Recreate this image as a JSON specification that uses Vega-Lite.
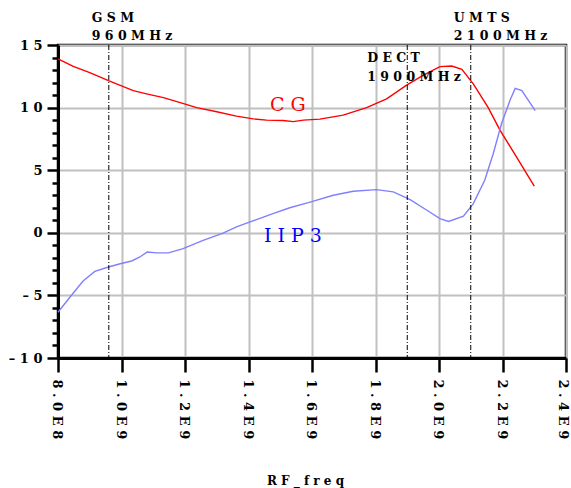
{
  "$schema": "https://vega.github.io/schema/vega-lite/v6.json",
  "width": 508,
  "height": 313,
  "autosize": "none",
  "padding": {"left": 58, "top": 45, "right": 5, "bottom": 130},
  "background": "white",
  "config": {
    "view": {"stroke": "#000000", "strokeWidth": 2.5},
    "font": "DejaVu Serif",
    "axisY": {
      "labelFont": "DejaVu Serif",
      "labelFontSize": 13,
      "labelFontWeight": "bold",
      "labelColor": "#000000",
      "labelPadding": 5,
      "labelFlush": false,
      "labelOverlap": false,
      "labelBound": false,
      "domainColor": "#000000",
      "domainWidth": 3,
      "tickColor": "#000000",
      "tickWidth": 2.5,
      "gridColor": "#c0c0c0",
      "gridWidth": 2
    },
    "axisX": {
      "labelFont": "DejaVu Serif",
      "labelFontSize": 13,
      "labelFontWeight": "bold",
      "labelColor": "#000000",
      "labelFlush": false,
      "labelOverlap": false,
      "labelBound": false,
      "domainColor": "#000000",
      "domainWidth": 3,
      "tickColor": "#000000",
      "tickWidth": 2.5,
      "gridColor": "#c0c0c0",
      "gridWidth": 2
    }
  },
  "datasets": {
    "curves": [
      {"series": "CG", "freq": 800000000, "val": 13.9},
      {"series": "CG", "freq": 848000000, "val": 13.3},
      {"series": "CG", "freq": 900000000, "val": 12.8},
      {"series": "CG", "freq": 959000000, "val": 12.15},
      {"series": "CG", "freq": 1037000000, "val": 11.35},
      {"series": "CG", "freq": 1079000000, "val": 11.1},
      {"series": "CG", "freq": 1132000000, "val": 10.8},
      {"series": "CG", "freq": 1185000000, "val": 10.4},
      {"series": "CG", "freq": 1237000000, "val": 10.0},
      {"series": "CG", "freq": 1300000000, "val": 9.67},
      {"series": "CG", "freq": 1362000000, "val": 9.32},
      {"series": "CG", "freq": 1415000000, "val": 9.1},
      {"series": "CG", "freq": 1457000000, "val": 9.0},
      {"series": "CG", "freq": 1509000000, "val": 8.97},
      {"series": "CG", "freq": 1541000000, "val": 8.88},
      {"series": "CG", "freq": 1573000000, "val": 9.0},
      {"series": "CG", "freq": 1625000000, "val": 9.08},
      {"series": "CG", "freq": 1698000000, "val": 9.4},
      {"series": "CG", "freq": 1772000000, "val": 10.0},
      {"series": "CG", "freq": 1835000000, "val": 10.7},
      {"series": "CG", "freq": 1898000000, "val": 11.8},
      {"series": "CG", "freq": 1951000000, "val": 12.6},
      {"series": "CG", "freq": 2003000000, "val": 13.27},
      {"series": "CG", "freq": 2040000000, "val": 13.32},
      {"series": "CG", "freq": 2072000000, "val": 13.05},
      {"series": "CG", "freq": 2108000000, "val": 11.9},
      {"series": "CG", "freq": 2155000000, "val": 10.0},
      {"series": "CG", "freq": 2192000000, "val": 8.2},
      {"series": "CG", "freq": 2244000000, "val": 6.07},
      {"series": "CG", "freq": 2300000000, "val": 3.72},
      {"series": "IIP3", "freq": 800000000, "val": -6.35},
      {"series": "IIP3", "freq": 838000000, "val": -5.13},
      {"series": "IIP3", "freq": 879000000, "val": -3.85},
      {"series": "IIP3", "freq": 916000000, "val": -3.08},
      {"series": "IIP3", "freq": 959000000, "val": -2.73},
      {"series": "IIP3", "freq": 996000000, "val": -2.47},
      {"series": "IIP3", "freq": 1032000000, "val": -2.25},
      {"series": "IIP3", "freq": 1058000000, "val": -1.93},
      {"series": "IIP3", "freq": 1081000000, "val": -1.53},
      {"series": "IIP3", "freq": 1111000000, "val": -1.6},
      {"series": "IIP3", "freq": 1148000000, "val": -1.6},
      {"series": "IIP3", "freq": 1194000000, "val": -1.27},
      {"series": "IIP3", "freq": 1257000000, "val": -0.6},
      {"series": "IIP3", "freq": 1320000000, "val": -0.02},
      {"series": "IIP3", "freq": 1362000000, "val": 0.47},
      {"series": "IIP3", "freq": 1425000000, "val": 1.05},
      {"series": "IIP3", "freq": 1477000000, "val": 1.53},
      {"series": "IIP3", "freq": 1530000000, "val": 2.0},
      {"series": "IIP3", "freq": 1594000000, "val": 2.45},
      {"series": "IIP3", "freq": 1667000000, "val": 3.0},
      {"series": "IIP3", "freq": 1730000000, "val": 3.32},
      {"series": "IIP3", "freq": 1803000000, "val": 3.45},
      {"series": "IIP3", "freq": 1856000000, "val": 3.27},
      {"series": "IIP3", "freq": 1909000000, "val": 2.65},
      {"series": "IIP3", "freq": 1962000000, "val": 1.8},
      {"series": "IIP3", "freq": 2003000000, "val": 1.13},
      {"series": "IIP3", "freq": 2030000000, "val": 0.9},
      {"series": "IIP3", "freq": 2077000000, "val": 1.32},
      {"series": "IIP3", "freq": 2108000000, "val": 2.33},
      {"series": "IIP3", "freq": 2144000000, "val": 4.2},
      {"series": "IIP3", "freq": 2171000000, "val": 6.33},
      {"series": "IIP3", "freq": 2197000000, "val": 8.73},
      {"series": "IIP3", "freq": 2224000000, "val": 10.6},
      {"series": "IIP3", "freq": 2240000000, "val": 11.53},
      {"series": "IIP3", "freq": 2261000000, "val": 11.35},
      {"series": "IIP3", "freq": 2303000000, "val": 9.75}
    ],
    "markers": [
      {"name": "GSM", "band": "960MHz", "freq": 960000000},
      {"name": "DECT", "band": "1900MHz", "freq": 1900000000},
      {"name": "UMTS", "band": "2100MHz", "freq": 2100000000}
    ],
    "tags": [
      {"series": "CG", "text": "C G", "freq": 1524000000, "val": 10.2},
      {"series": "IIP3", "text": "I I P 3", "freq": 1540000000, "val": -0.25}
    ]
  },
  "layer": [
    {
      "data": {"name": "curves"},
      "mark": {"type": "line", "strokeWidth": 1.4, "clip": false},
      "encoding": {
        "x": {
          "field": "freq",
          "type": "quantitative",
          "title": "R F _ f r e q",
          "scale": {"domain": [800000000, 2400000000], "nice": false, "zero": false},
          "axis": {
            "titleFont": "DejaVu Serif",
            "titleFontSize": 12,
            "titleFontWeight": "bold",
            "titleColor": "#000000",
            "titleX": 247,
            "titleY": 126,
            "titleAlign": "center",
            "titleBaseline": "alphabetic",
            "values": [800000000, 900000000, 1000000000, 1100000000, 1200000000, 1300000000, 1400000000, 1500000000, 1600000000, 1700000000, 1800000000, 1900000000, 2000000000, 2100000000, 2200000000, 2300000000, 2400000000],
            "labelExpr": "(round(datum.value/1e8) % 2 != 0) ? '' : (round(datum.value/1e8) < 10 ? '8 . 0 E 8' : floor(round(datum.value/1e8)/10) + ' . ' + (round(datum.value/1e8) % 10) + ' E 9')",
            "labelAngle": 90,
            "labelAlign": "left",
            "labelBaseline": "middle",
            "labelPadding": 7,
            "labelOffset": {"condition": {"test": "datum.value >= 2350000000", "value": -4}, "value": -1.5},
            "tickSize": {"condition": {"test": "round(datum.value/1e8) % 2 == 0", "value": 14}, "value": 8},
            "grid": true,
            "gridOpacity": {"condition": {"test": "round(datum.value/1e8) % 2 == 0", "value": 1}, "value": 0}
          }
        },
        "y": {
          "field": "val",
          "type": "quantitative",
          "title": null,
          "scale": {"domain": [-10, 15], "nice": false, "zero": false},
          "axis": {
            "values": [-10, -9, -8, -7, -6, -5, -4, -3, -2, -1, 0, 1, 2, 3, 4, 5, 6, 7, 8, 9, 10, 11, 12, 13, 14, 15],
            "labelExpr": "datum.value % 5 != 0 ? '' : join(split(replace(toString(datum.value), '-', '–'), ''), ' ')",
            "tickSize": {"condition": {"test": "datum.value % 5 == 0", "value": 11}, "value": 6},
            "grid": true,
            "gridOpacity": {"condition": {"test": "datum.value % 5 == 0", "value": 1}, "value": 0}
          }
        },
        "color": {
          "field": "series",
          "type": "nominal",
          "scale": {"domain": ["CG", "IIP3"], "range": ["#ff0000", "#8080ff"]},
          "legend": null
        },
        "strokeWidth": {
          "field": "series",
          "type": "nominal",
          "scale": {"domain": ["CG", "IIP3"], "range": [1.5, 1.2]},
          "legend": null
        }
      }
    },
    {
      "data": {"name": "markers"},
      "mark": {"type": "rule", "color": "#000000", "strokeWidth": 1, "strokeDash": [5, 2, 1, 2]},
      "encoding": {
        "x": {"field": "freq", "type": "quantitative", "title": "R F _ f r e q"}
      }
    },
    {
      "data": {"name": "markers"},
      "transform": [
        {"filter": "datum.name != 'DECT'"},
        {"calculate": "[join(split(datum.name, ''), ' '), join(split(datum.band, ''), ' ')]", "as": "lbl"}
      ],
      "mark": {"type": "text", "align": "left", "baseline": "middle", "dx": -17, "font": "DejaVu Serif", "fontSize": 12.5, "fontWeight": "bold", "lineHeight": 18.5, "color": "#000000"},
      "encoding": {
        "x": {"field": "freq", "type": "quantitative", "title": "R F _ f r e q"},
        "y": {
          "datum": 17.18,
          "type": "quantitative",
          "title": null,
          "axis": {
            "values": [-10, -9, -8, -7, -6, -5, -4, -3, -2, -1, 0, 1, 2, 3, 4, 5, 6, 7, 8, 9, 10, 11, 12, 13, 14, 15],
            "labelExpr": "datum.value % 5 != 0 ? '' : join(split(replace(toString(datum.value), '-', '–'), ''), ' ')",
            "tickSize": {"condition": {"test": "datum.value % 5 == 0", "value": 11}, "value": 6},
            "grid": true,
            "gridOpacity": {"condition": {"test": "datum.value % 5 == 0", "value": 1}, "value": 0}
          }
        },
        "text": {"field": "lbl"}
      }
    },
    {
      "data": {"name": "markers"},
      "transform": [
        {"filter": "datum.name == 'DECT'"},
        {"calculate": "[join(split(datum.name, ''), ' '), join(split(datum.band, ''), ' ')]", "as": "lbl"}
      ],
      "mark": {"type": "text", "align": "left", "baseline": "middle", "dx": -40, "font": "DejaVu Serif", "fontSize": 12.5, "fontWeight": "bold", "lineHeight": 18.5, "color": "#000000"},
      "encoding": {
        "x": {"field": "freq", "type": "quantitative", "title": "R F _ f r e q"},
        "y": {
          "datum": 13.93,
          "type": "quantitative",
          "title": null,
          "axis": {
            "values": [-10, -9, -8, -7, -6, -5, -4, -3, -2, -1, 0, 1, 2, 3, 4, 5, 6, 7, 8, 9, 10, 11, 12, 13, 14, 15],
            "labelExpr": "datum.value % 5 != 0 ? '' : join(split(replace(toString(datum.value), '-', '–'), ''), ' ')",
            "tickSize": {"condition": {"test": "datum.value % 5 == 0", "value": 11}, "value": 6},
            "grid": true,
            "gridOpacity": {"condition": {"test": "datum.value % 5 == 0", "value": 1}, "value": 0}
          }
        },
        "text": {"field": "lbl"}
      }
    },
    {
      "data": {"name": "tags"},
      "transform": [{"filter": "datum.series == 'CG'"}],
      "mark": {"type": "text", "align": "center", "baseline": "middle", "font": "DejaVu Serif", "fontSize": 19, "color": "#ff0000"},
      "encoding": {
        "x": {"field": "freq", "type": "quantitative", "title": "R F _ f r e q"},
        "y": {
          "field": "val",
          "type": "quantitative",
          "title": null,
          "axis": {
            "values": [-10, -9, -8, -7, -6, -5, -4, -3, -2, -1, 0, 1, 2, 3, 4, 5, 6, 7, 8, 9, 10, 11, 12, 13, 14, 15],
            "labelExpr": "datum.value % 5 != 0 ? '' : join(split(replace(toString(datum.value), '-', '–'), ''), ' ')",
            "tickSize": {"condition": {"test": "datum.value % 5 == 0", "value": 11}, "value": 6},
            "grid": true,
            "gridOpacity": {"condition": {"test": "datum.value % 5 == 0", "value": 1}, "value": 0}
          }
        },
        "text": {"field": "text"}
      }
    },
    {
      "data": {"name": "tags"},
      "transform": [{"filter": "datum.series == 'IIP3'"}],
      "mark": {"type": "text", "align": "center", "baseline": "middle", "font": "DejaVu Serif", "fontSize": 19, "color": "#0000ff"},
      "encoding": {
        "x": {"field": "freq", "type": "quantitative", "title": "R F _ f r e q"},
        "y": {
          "field": "val",
          "type": "quantitative",
          "title": null,
          "axis": {
            "values": [-10, -9, -8, -7, -6, -5, -4, -3, -2, -1, 0, 1, 2, 3, 4, 5, 6, 7, 8, 9, 10, 11, 12, 13, 14, 15],
            "labelExpr": "datum.value % 5 != 0 ? '' : join(split(replace(toString(datum.value), '-', '–'), ''), ' ')",
            "tickSize": {"condition": {"test": "datum.value % 5 == 0", "value": 11}, "value": 6},
            "grid": true,
            "gridOpacity": {"condition": {"test": "datum.value % 5 == 0", "value": 1}, "value": 0}
          }
        },
        "text": {"field": "text"}
      }
    }
  ]
}
